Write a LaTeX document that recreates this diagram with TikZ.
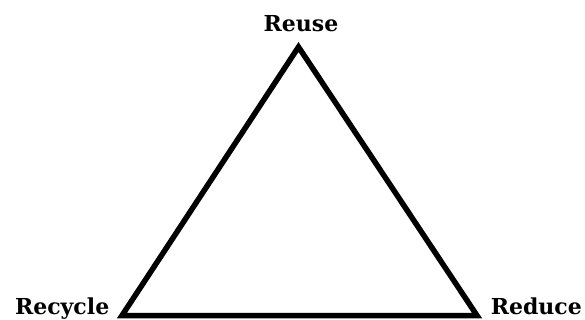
\documentclass[tikz,border=0pt]{standalone}
\usepackage{fontspec}
\setmainfont{DejaVu Serif}
\usetikzlibrary{positioning}

\begin{document}
\begin{tikzpicture}[x=1pt, y=-1pt, line width=5.5pt,
    wordlabel/.style={font=\bfseries\fontsize{22}{26}\selectfont, inner sep=0pt}]
            \useasboundingbox (0,0) rectangle (585,320);
            \coordinate (apex) at (298.5,47);
            \coordinate (cornerL) at (122,315.5);
            \coordinate (cornerR) at (477,315.5);
            \draw[line join=miter] (apex) -- (cornerL) -- (cornerR) -- cycle;
            \node[wordlabel, anchor=base] (reuse) at (301,31.5) {Reuse};
            \node[wordlabel, anchor=base east] (recycle) at (112,314.5) {Recycle};
            \node[wordlabel, anchor=base west] (reduce) at (488,314.5) {Reduce};
        \end{tikzpicture}
\end{document}
